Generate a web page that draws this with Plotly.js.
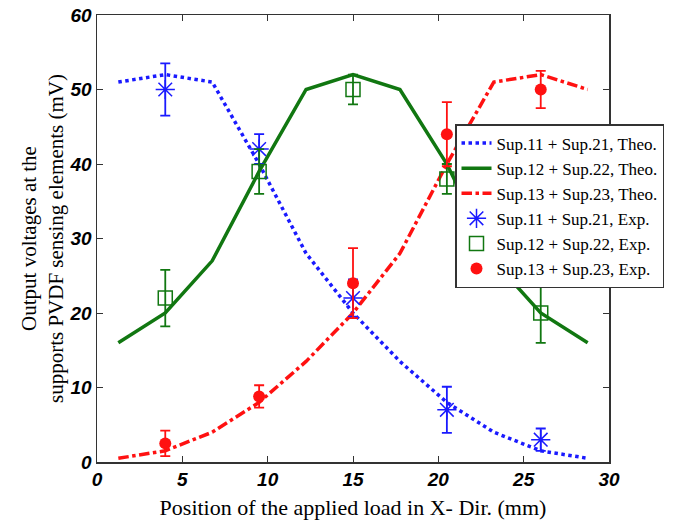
<!DOCTYPE html>
<html><head><meta charset="utf-8">
<script src="https://cdn.plot.ly/plotly-3.0.1.min.js"></script>
<style>body{margin:0;background:#fff}#c{width:677px;height:527px}</style>
</head><body><div id="c"></div>
<script>
const theoX = [1.25, 4, 6.75, 9.5, 12.25, 15, 17.75, 20.5, 23.25, 26, 28.75];
const theo1 = [51, 52, 51, 40, 28, 20, 13.5, 8, 4, 1.5, 0.5];
const theo2 = [16, 20, 27, 39, 50, 52, 50, 40, 27, 20, 16];
const theo3 = [0.5, 1.5, 4, 8, 13.5, 20, 28, 40, 51, 52, 50];
const expX = [4, 9.5, 15, 20.5, 26];
const exp1 = [50, 42, 22, 7, 3];
const err1 = [3.5, 2, 2.5, 3.1, 1.5];
const exp2 = [22, 39, 50, 38, 20];
const err2 = [3.8, 3, 2, 2, 4];
const exp3 = [2.5, 8.8, 24, 44, 50];
const err3 = [1.7, 1.5, 4.7, 4.3, 2.5];
const names = ['Sup.11 + Sup.21, Theo.', 'Sup.12 + Sup.22, Theo.', 'Sup.13 + Sup.23, Theo.',
               'Sup.11 + Sup.21, Exp.', 'Sup.12 + Sup.22, Exp.', 'Sup.13 + Sup.23, Exp.'];
const blue = '#1a1aff', green = '#117711', red = '#ff1111';
const serif = 'Liberation Serif';

const traces = [
  {x: theoX, y: theo1, mode: 'lines', name: names[0], line: {color: blue, width: 3.5, dash: 'dot'}},
  {x: theoX, y: theo2, mode: 'lines', name: names[1], line: {color: green, width: 3.5}},
  {x: theoX, y: theo3, mode: 'lines', name: names[2], line: {color: red, width: 3.5, dash: 'dashdot'}},
  {x: expX, y: exp1, mode: 'markers', name: names[3],
   marker: {symbol: 'asterisk-open', size: 16, color: blue, line: {color: blue, width: 1.5}},
   error_y: {type: 'data', array: err1, color: blue, thickness: 1.8, width: 5}},
  {x: expX, y: exp2, mode: 'markers', name: names[4],
   marker: {symbol: 'square-open', size: 14, color: green, line: {color: green, width: 1.5}},
   error_y: {type: 'data', array: err2, color: green, thickness: 1.8, width: 5}},
  {x: expX, y: exp3, mode: 'markers', name: names[5],
   marker: {symbol: 'circle', size: 12, color: red},
   error_y: {type: 'data', array: err3, color: red, thickness: 1.8, width: 5}}
];

const tickFont = {family: 'Liberation Sans', size: 19, color: '#000', weight: 'bold', style: 'italic'};
const pw = 677 - 97 - 68, ph = 527 - 15 - 65;
const layout = {
  width: 677, height: 527,
  font: {family: serif},
  margin: {l: 97, r: 68, t: 15, b: 65, autoexpand: false},
  paper_bgcolor: '#fff', plot_bgcolor: '#fff',
  showlegend: true,
  legend: {x: (455 - 97) / pw, y: (462 - 124) / ph, xanchor: 'left', yanchor: 'top',
           font: {family: serif, size: 17, color: '#000'},
           bordercolor: '#333', borderwidth: 1.5, bgcolor: '#fff', tracegroupgap: 0, itemwidth: 30},
  xaxis: {range: [0, 30], dtick: 5, tick0: 0, ticks: 'inside', ticklen: 6, tickcolor: '#333',
          showline: true, linecolor: '#333', linewidth: 1.5, mirror: 'ticks', showgrid: false, zeroline: false,
          tickfont: tickFont,
          title: {text: 'Position of the applied load in X- Dir. (mm)', standoff: 10,
                  font: {family: serif, size: 22, color: '#000'}}},
  yaxis: {range: [0, 60], dtick: 10, tick0: 0, ticks: 'inside', ticklen: 6, tickcolor: '#333',
          showline: true, linecolor: '#333', linewidth: 1.5, mirror: 'ticks', showgrid: false, zeroline: false,
          tickfont: tickFont,
          title: {text: 'Output voltages at the<br>supports PVDF sensing elements (mV)', standoff: 0,
                  font: {family: serif, size: 21, color: '#000'}}}
};
Plotly.newPlot('c', traces, layout, {displayModeBar: false, staticPlot: true});
</script>
</body></html>
